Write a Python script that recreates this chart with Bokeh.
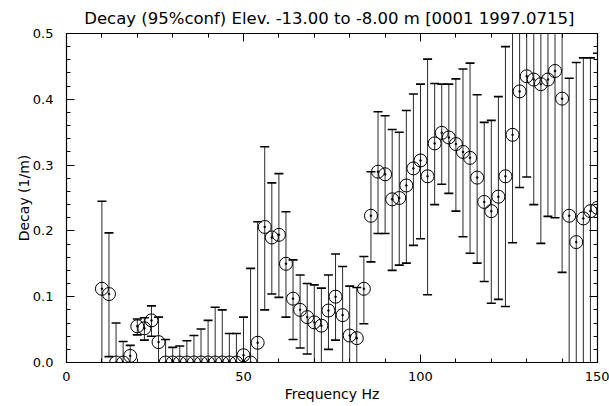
from bokeh.plotting import figure
from bokeh.models import (ColumnDataSource, FixedTicker, LinearAxis, Range1d,
                          PrintfTickFormatter)
from bokeh.embed import file_html
from bokeh.resources import INLINE

# Frequency bins (Hz)
freq = [10, 12, 14, 16, 18, 20, 22, 24, 26, 28, 30, 32, 34, 36, 38, 40, 42, 44,
        46, 48, 50, 52, 54, 56, 58, 60, 62, 64, 66, 68, 70, 72, 74, 76, 78, 80,
        82, 84, 86, 88, 90, 92, 94, 96, 98, 100, 102, 104, 106, 108, 110, 112,
        114, 116, 118, 120, 122, 124, 126, 128, 130, 132, 134, 136, 138, 140,
        142, 144, 146, 148, 150]

# Decay estimate (1/m)
decay = [0.112, 0.104, 0.0, 0.0, 0.010, 0.055, 0.052, 0.064, 0.031, 0.0,
         0.0, 0.0, 0.0, 0.0, 0.0, 0.0, 0.0, 0.0, 0.0, 0.0,
         0.011, 0.0, 0.030, 0.206, 0.190, 0.194, 0.150, 0.097, 0.080, 0.069,
         0.061, 0.056, 0.079, 0.100, 0.072, 0.041, 0.037, 0.112, 0.223, 0.290,
         0.286, 0.248, 0.250, 0.269, 0.295, 0.307, 0.283, 0.333, 0.349, 0.342,
         0.332, 0.320, 0.311, 0.281, 0.244, 0.230, 0.252, 0.283, 0.346, 0.412,
         0.435, 0.430, 0.423, 0.430, 0.443, 0.401, 0.223, 0.183, 0.219, 0.230,
         0.235]

# 95% confidence limits
upper = [0.245, 0.197, 0.060, 0.032, 0.026, 0.066, 0.068, 0.086, 0.069, 0.035,
         0.023, 0.025, 0.033, 0.041, 0.051, 0.064, 0.084, 0.080, 0.044, 0.044,
         0.069, 0.143, 0.214, 0.328, 0.273, 0.287, 0.229, 0.156, 0.133, 0.120,
         0.118, 0.113, 0.133, 0.165, 0.146, 0.116, 0.114, 0.161, 0.290, 0.381,
         0.375, 0.354, 0.350, 0.383, 0.408, 0.423, 0.461, 0.424, 0.423, 0.423,
         0.431, 0.446, 0.455, 0.407, 0.365, 0.368, 0.404, 0.480, 0.520, 0.560,
         0.590, 0.620, 0.660, 0.640, 0.670, 0.670, 0.432, 0.456, 0.463, 0.463,
         0.470]

lower = [-0.020, 0.009, -0.020, -0.020, -0.020, 0.042, 0.034, 0.040, -0.010, -0.020,
         -0.020, -0.020, -0.020, -0.020, -0.020, -0.020, -0.020, -0.020, -0.020, -0.020,
         -0.020, -0.020, -0.020, 0.080, 0.104, 0.099, 0.069, 0.035, 0.022, 0.013,
         -0.010, -0.010, 0.020, 0.034, -0.010, -0.030, -0.030, 0.059, 0.153, 0.196,
         0.196, 0.140, 0.148, 0.151, 0.178, 0.188, 0.103, 0.240, 0.271, 0.257,
         0.230, 0.191, 0.166, 0.151, 0.123, 0.090, 0.096, 0.085, 0.182, 0.266,
         0.282, 0.240, 0.181, 0.222, 0.220, 0.137, -0.020, -0.050, -0.030, -0.020,
         -0.020]

title_text = "Decay (95%conf) Elev. -13.00 to  -8.00 m [0001 1997.0715]"
x_ticks = [0, 50, 100, 150]
y_ticks = [0.0, 0.1, 0.2, 0.3, 0.4, 0.5]

FONT = "DejaVu Sans"
INK = "black"

src = ColumnDataSource(dict(f=freq, d=decay, up=upper, lo=lower))

p = figure(width=609, height=406, output_backend="svg", toolbar_location=None,
           x_range=Range1d(0, 150), y_range=Range1d(0, 0.5),
           min_border_left=66, min_border_right=12, min_border_top=32,
           min_border_bottom=44, background_fill_color="white",
           border_fill_color="white", x_axis_type=None, y_axis_type=None)

p.xgrid.visible = False
p.ygrid.visible = False
p.outline_line_color = INK
p.outline_line_width = 1.2

xt = FixedTicker(ticks=x_ticks, minor_ticks=list(range(0, 151, 10)))
yt = FixedTicker(ticks=y_ticks, minor_ticks=[i / 50 for i in range(26)])


def style_axis(ax, ticks, labelled):
    ax.axis_line_color = INK
    ax.major_tick_line_color = INK
    ax.minor_tick_line_color = INK
    ax.major_tick_in = 8
    ax.major_tick_out = 0
    ax.minor_tick_in = 4
    ax.minor_tick_out = 0
    if labelled:
        ax.major_label_text_font = FONT
        ax.major_label_text_font_size = "13px"
        ax.major_label_text_color = INK
        ax.axis_label_text_font = FONT
        ax.axis_label_text_font_size = "14px"
        ax.axis_label_text_font_style = "normal"
        ax.axis_label_text_color = INK
    else:
        # tick marks only, no numbers on the mirrored axes
        ax.major_label_overrides = {t: "" for t in ticks}
        ax.major_label_text_font_size = "0px"
        ax.major_label_standoff = 0


bottom = LinearAxis(ticker=xt, axis_label="Frequency Hz")
style_axis(bottom, x_ticks, True)
bottom.major_label_standoff = 9
bottom.axis_label_standoff = 2
p.add_layout(bottom, "below")

top = LinearAxis(ticker=xt)
style_axis(top, x_ticks, False)
p.add_layout(top, "above")

left = LinearAxis(ticker=yt, axis_label="Decay (1/m)",
                  formatter=PrintfTickFormatter(format="%.1f"))
style_axis(left, y_ticks, True)
left.major_label_standoff = 13
left.axis_label_standoff = -2
p.add_layout(left, "left")

right = LinearAxis(ticker=yt)
style_axis(right, y_ticks, False)
p.add_layout(right, "right")

p.title.text = title_text
p.title.align = "center"
p.title.text_font = FONT
p.title.text_font_size = "16.5px"
p.title.text_font_style = "normal"
p.title.text_color = INK
p.title.standoff = 12

# confidence interval stems and caps
p.segment(x0="f", y0="lo", x1="f", y1="up", source=src, line_color="#2a2a2a",
          line_width=1)
p.scatter(x="f", y="up", source=src, marker="dash", size=9, line_color=INK,
          line_width=1.6)
p.scatter(x="f", y="lo", source=src, marker="dash", size=9, line_color=INK,
          line_width=1.6)

# decay estimates: open circle with a small centre dot
p.scatter(x="f", y="d", source=src, marker="circle", size=13,
          fill_color=None, line_color=INK, line_width=1)
p.scatter(x="f", y="d", source=src, marker="circle", size=2,
          fill_color=INK, line_color=INK, line_width=0.5)

open("out.html", "w").write(file_html(p, INLINE))
